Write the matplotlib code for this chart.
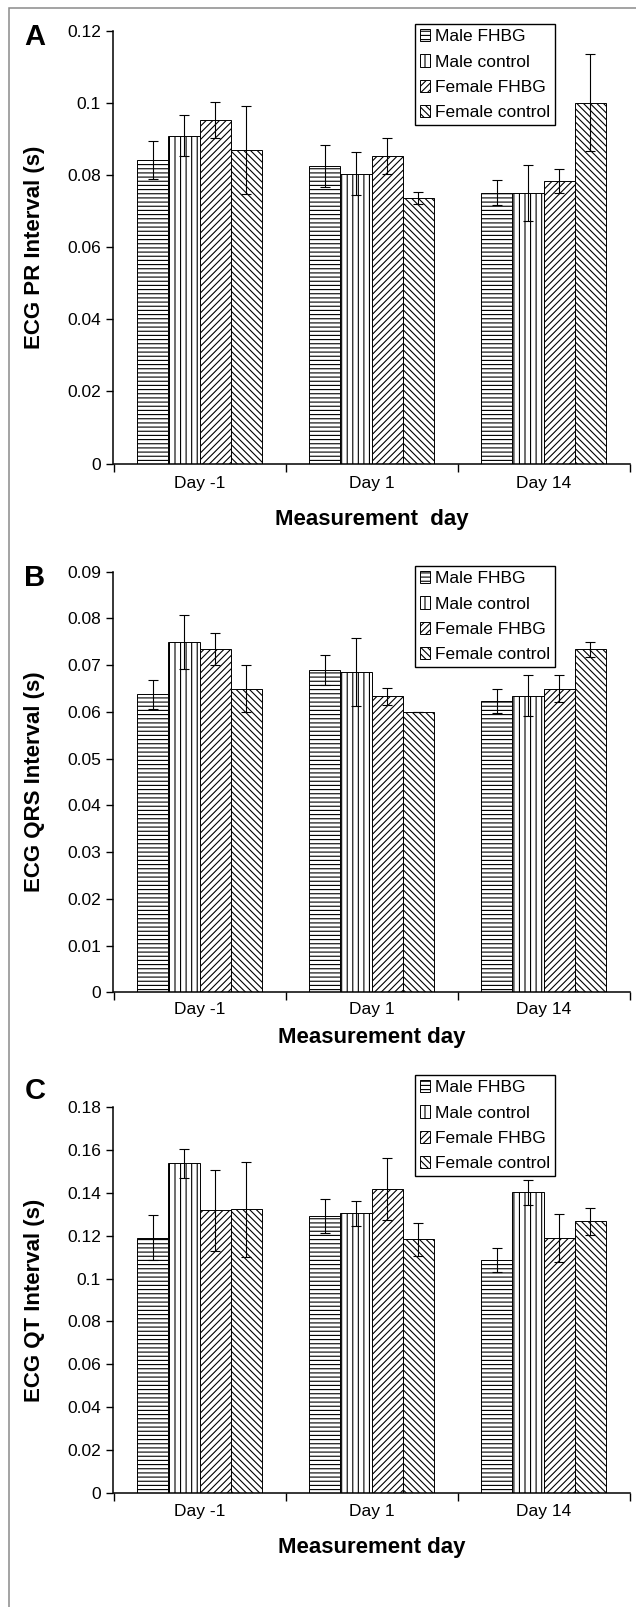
import matplotlib
matplotlib.use("Agg")
import matplotlib.pyplot as plt
from matplotlib.patches import Rectangle
from matplotlib.ticker import FuncFormatter, FixedLocator
import numpy as np

plt.rcParams['font.family'] = ['Liberation Sans', 'DejaVu Sans']
plt.rcParams['hatch.linewidth'] = 0.8
plt.rcParams['hatch.color'] = 'black'

days = ["Day -1", "Day 1", "Day 14"]
groups = ["Male FHBG", "Male control", "Female FHBG", "Female control"]
hatches = ['----', '|||', '/////', '\\\\\\\\\\']

# Panel A: PR interval
pr_male_fhbg = [0.0841, 0.0826, 0.0751]
pr_male_ctrl = [0.0910, 0.0804, 0.0751]
pr_fem_fhbg = [0.0952, 0.0852, 0.0783]
pr_fem_ctrl = [0.0870, 0.0736, 0.1001]
pr_err_male_fhbg = [0.0053, 0.0059, 0.0035]
pr_err_male_ctrl = [0.0058, 0.0060, 0.0077]
pr_err_fem_fhbg = [0.0050, 0.0050, 0.0033]
pr_err_fem_ctrl = [0.0121, 0.0017, 0.0135]

# Panel B: QRS interval
qrs_male_fhbg = [0.0638, 0.0689, 0.0624]
qrs_male_ctrl = [0.0750, 0.0685, 0.0635]
qrs_fem_fhbg = [0.0735, 0.0633, 0.0650]
qrs_fem_ctrl = [0.0650, 0.0600, 0.0734]
qrs_err_male_fhbg = [0.0031, 0.0032, 0.0026]
qrs_err_male_ctrl = [0.0058, 0.0073, 0.0044]
qrs_err_fem_fhbg = [0.0034, 0.0018, 0.0029]
qrs_err_fem_ctrl = [0.0051, 0.0, 0.0016]

# Panel C: QT interval
qt_male_fhbg = [0.1189, 0.1291, 0.1086]
qt_male_ctrl = [0.1536, 0.1303, 0.1401]
qt_fem_fhbg = [0.1317, 0.1417, 0.1189]
qt_fem_ctrl = [0.1322, 0.1182, 0.1266]
qt_err_male_fhbg = [0.0105, 0.0078, 0.0054]
qt_err_male_ctrl = [0.0067, 0.0057, 0.0058]
qt_err_fem_fhbg = [0.0190, 0.0144, 0.0112]
qt_err_fem_ctrl = [0.0220, 0.0075, 0.0064]

panels = [
    dict(letter="A", ylabel="ECG PR Interval (s)", xlabel="Measurement  day",
         vals=[pr_male_fhbg, pr_male_ctrl, pr_fem_fhbg, pr_fem_ctrl],
         errs=[pr_err_male_fhbg, pr_err_male_ctrl, pr_err_fem_fhbg, pr_err_fem_ctrl],
         ymax=0.12, ystep=0.02, top=31.0, bottom=463.5, legtop=24, letter_y=37,
         xl_y=519, tick_pad=9),
    dict(letter="B", ylabel="ECG QRS Interval (s)", xlabel="Measurement day",
         vals=[qrs_male_fhbg, qrs_male_ctrl, qrs_fem_fhbg, qrs_fem_ctrl],
         errs=[qrs_err_male_fhbg, qrs_err_male_ctrl, qrs_err_fem_fhbg, qrs_err_fem_ctrl],
         ymax=0.09, ystep=0.01, top=571.7, bottom=992.3, legtop=566, letter_y=578,
         xl_y=1038, tick_pad=7),
    dict(letter="C", ylabel="ECG QT Interval (s)", xlabel="Measurement day",
         vals=[qt_male_fhbg, qt_male_ctrl, qt_fem_fhbg, qt_fem_ctrl],
         errs=[qt_err_male_fhbg, qt_err_male_ctrl, qt_err_fem_fhbg, qt_err_fem_ctrl],
         ymax=0.18, ystep=0.02, top=1106.7, bottom=1493.3, legtop=1075, letter_y=1091,
         xl_y=1547, tick_pad=8),
]

W, H = 636, 1607
fig = plt.figure(figsize=(W / 100, H / 100), dpi=100)

# outer frame
fig.patches.append(Rectangle((9 / W, -0.1), 1.2, 1.1 - 8 / H, transform=fig.transFigure,
                             fill=False, edgecolor='#8a8a8a', linewidth=1.1))

left_px, right_px = 113.5, 629.5
x = np.arange(len(days))
bw = 1 / 5.5

for p in panels:
    ax = fig.add_axes([left_px / W, 1 - p['bottom'] / H,
                       (right_px - left_px) / W, (p['bottom'] - p['top']) / H])
    handles = []
    for i, (v, e) in enumerate(zip(p['vals'], p['errs'])):
        xs = x + (i - 1.5) * bw
        bars = ax.bar(xs, v, width=bw, facecolor='white', edgecolor='black',
                      linewidth=0.7, hatch=hatches[i], label=groups[i], zorder=2)
        ax.errorbar(xs, v, yerr=e, fmt='none', ecolor='black', elinewidth=0.8,
                    capsize=3.6, capthick=0.8, zorder=3)
        handles.append(bars)
    ax.set_xlim(-0.5, 2.5)
    ax.set_ylim(0, p['ymax'])
    n = int(round(p['ymax'] / p['ystep']))
    ax.yaxis.set_major_locator(FixedLocator([k * p['ystep'] for k in range(n + 1)]))
    ax.yaxis.set_major_formatter(FuncFormatter(lambda v, _: f"{round(v, 4):g}"))
    ax.set_xticks(x)
    ax.set_xticklabels(days)
    ax.set_xticks([-0.5, 0.5, 1.5, 2.5], minor=True)
    ax.tick_params(axis='x', which='major', length=0, pad=p['tick_pad'], labelsize=12.5)
    ax.tick_params(axis='x', which='minor', length=6, width=1, direction='out')
    ax.tick_params(axis='y', length=5, width=1, direction='out', pad=4, labelsize=12.5)
    for s in ['top', 'right']:
        ax.spines[s].set_visible(False)
    for s in ['left', 'bottom']:
        ax.spines[s].set_linewidth(1.1)

    fig.text(35 / W, 1 - (p['top'] + p['bottom']) / 2 / H, p['ylabel'], rotation=90,
             ha='center', va='center', fontsize=16, fontweight='bold')
    fig.text((left_px + right_px) / 2 / W, 1 - p['xl_y'] / H, p['xlabel'],
             ha='center', va='center', fontsize=16, fontweight='bold')
    fig.text(35 / W, 1 - p['letter_y'] / H, p['letter'], ha='center', va='center',
             fontsize=21, fontweight='bold')

    leg = ax.legend(handles=handles, labels=groups, loc='upper left',
                    bbox_to_anchor=(415 / W, 1 - p['legtop'] / H),
                    bbox_transform=fig.transFigure, borderaxespad=0,
                    fontsize=12.5, frameon=True, fancybox=False, framealpha=1,
                    edgecolor='black', handlelength=0.55, handleheight=0.7,
                    handletextpad=0.3, labelspacing=0.58, borderpad=0.3)
    leg.get_frame().set_linewidth(1.0)

fig.savefig("out.png", dpi=100)
